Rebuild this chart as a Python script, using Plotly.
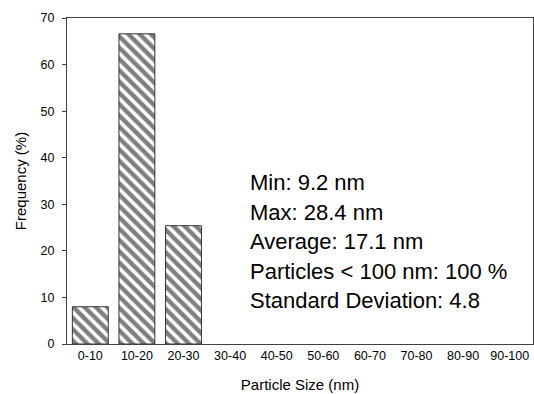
import plotly.graph_objects as go

# Particle size distribution (percentage of particles per 10 nm bin)
size_bins = ["0-10", "10-20", "20-30", "30-40", "40-50",
             "50-60", "60-70", "70-80", "80-90", "90-100"]
frequency = [8.0, 66.6, 25.4, 0, 0, 0, 0, 0, 0, 0]

summary_lines = [
    "Min: 9.2 nm",
    "Max: 28.4 nm",
    "Average: 17.1 nm",
    "Particles < 100 nm: 100 %",
    "Standard Deviation: 4.8",
]
y_ticks = [0, 10, 20, 30, 40, 50, 60, 70]

FONT = "Liberation Sans, Arial, sans-serif"
AXIS_COLOR = "#404040"

# empty bins get no outline so nothing is drawn on the baseline
outline_widths = [1 if v > 0 else 0 for v in frequency]

fig = go.Figure(
    go.Bar(
        x=size_bins,
        y=frequency,
        marker=dict(
            color="white",
            line=dict(color="#333333", width=outline_widths),
            pattern=dict(shape="\\", fgcolor="black", bgcolor="white",
                         size=8, solidity=0.55),
        ),
        width=0.77,
    )
)

# Summary statistics block, one annotation per line
for i, line in enumerate(summary_lines):
    fig.add_annotation(
        x=0.388, xref="paper", xanchor="left",
        y=0.495 - i * 0.0905, yref="paper", yanchor="middle",
        text=line, showarrow=False,
        font=dict(family=FONT, size=22, color="black"),
    )

fig.update_layout(
    width=534, height=394,
    margin=dict(l=67, r=1, t=18, b=50),
    paper_bgcolor="white", plot_bgcolor="white",
    showlegend=False,
    font=dict(family=FONT, color="black"),
    xaxis=dict(
        title=dict(text="Particle Size (nm)", font=dict(size=15), standoff=17),
        tickfont=dict(size=12.5),
        showline=True, linecolor=AXIS_COLOR, linewidth=1, mirror=True,
        ticks="", showgrid=False,
        range=[-0.5, 9.5],
    ),
    yaxis=dict(
        title=dict(text="Frequency (%)", font=dict(size=15), standoff=10),
        tickfont=dict(size=12.5),
        tickvals=y_ticks,
        range=[0, 70],
        showline=True, linecolor=AXIS_COLOR, linewidth=1, mirror=True,
        ticks="outside", ticklen=4, tickcolor=AXIS_COLOR,
        ticklabelstandoff=5,
        showgrid=False, zeroline=False,
    ),
)

fig.write_html("out.html")
